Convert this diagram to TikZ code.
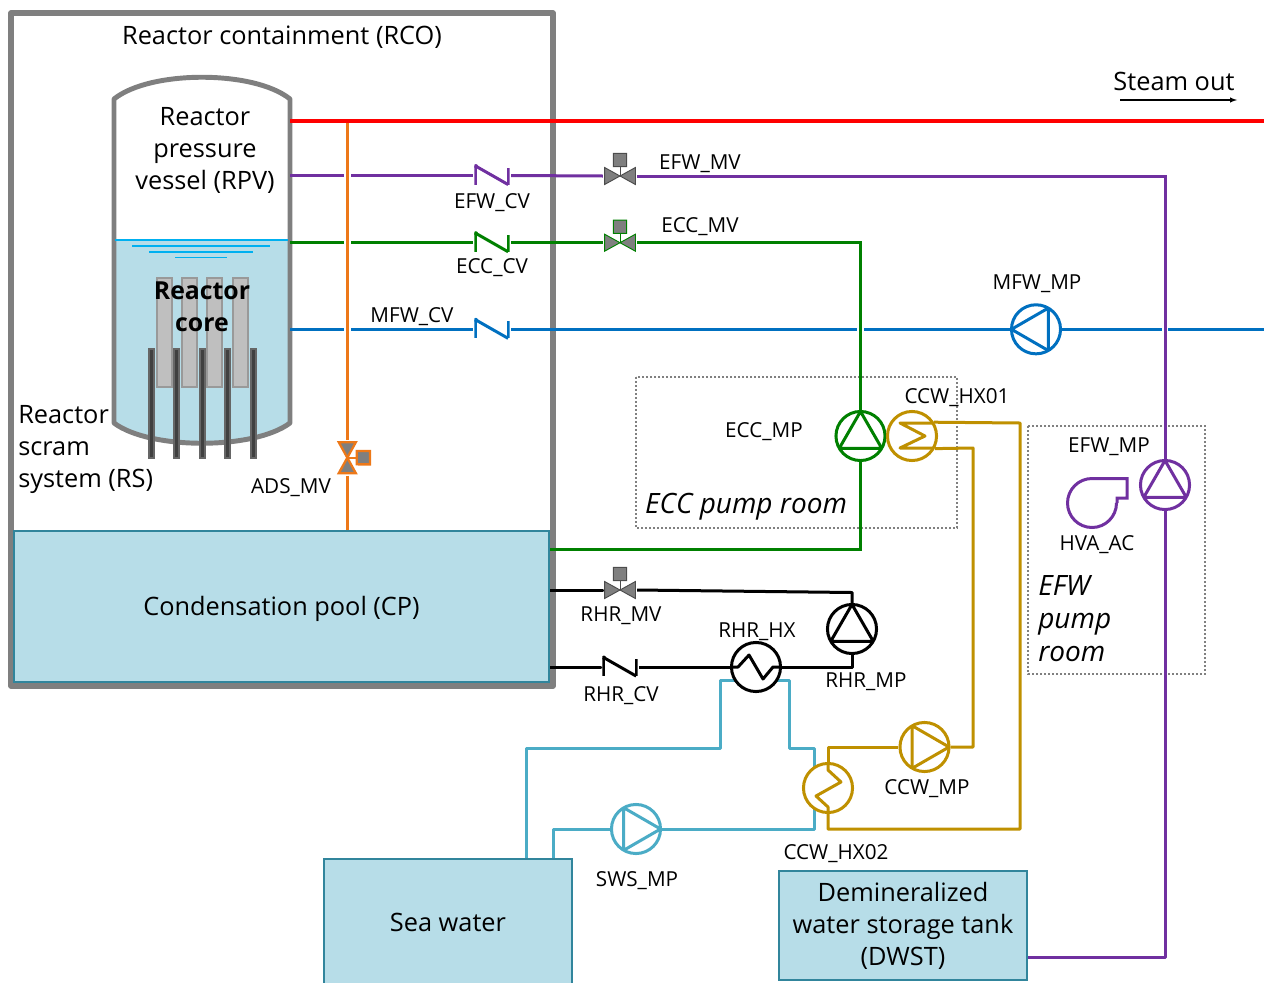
\documentclass[tikz,border=0pt]{standalone}
\usepackage{fontspec}
\setmainfont{Open Sans}
\usepackage{xcolor}
\usetikzlibrary{arrows,backgrounds}
\definecolor{wallgray}{HTML}{7F7F7F}
\definecolor{tankblue}{HTML}{B7DDE8}
\definecolor{tankedge}{HTML}{31859C}
\definecolor{surfblue}{HTML}{00B0F0}
\definecolor{efwcol}{HTML}{7030A0}
\definecolor{ecccol}{HTML}{008000}
\definecolor{mfwcol}{HTML}{0070C0}
\definecolor{adscol}{HTML}{ED7818}
\definecolor{ccwcol}{HTML}{BF9000}
\definecolor{swscol}{HTML}{4BACC6}

\begin{document}
\begin{tikzpicture}[
    x=0.75pt, y=-0.75pt,
    tag/.style={font=\fontsize{15.5pt}{18pt}\selectfont, inner sep=0pt},
    big/.style={font=\fontsize{19pt}{24pt}\selectfont, inner sep=0pt, align=center},
    room/.style={big, font=\fontsize{21pt}{24.75pt}\selectfont\itshape},
    tank/.style={draw=tankedge, fill=tankblue, line width=0.8pt, inner sep=0pt, big},
    pipe/.style={line width=2.25pt},
    hop/.style={white, line width=5pt},
    roombox/.style={draw=gray, line width=0.9pt, dash pattern=on 1.6pt off 1.4pt},
    fuelrod/.style={draw=gray!80, fill=gray!50, line width=0.8pt},
    ctrlrod/.style={draw=black!60, fill=black!75, line width=0.8pt},
    pump/.style={circle, draw, fill=white, pipe, minimum size=36.8pt, inner sep=0pt,
        path picture={\draw[pipe, line join=round, shift={(path picture bounding box.center)}]
            (90+#1:18.4pt) -- (210+#1:18.4pt) -- (330+#1:18.4pt) -- cycle;}},
    hx/.style={circle, draw, fill=white, pipe, minimum size=36.8pt, inner sep=0pt,
        path picture={\draw[pipe, line join=round, shift={(path picture bounding box.center)}] #1;}},
    bowtie/.style={inner sep=0pt,
        path picture={\begin{scope}[shift={(path picture bounding box.center)}]
            \draw (0pt,0pt) -- (90+#1:7pt);
            \draw[fill=wallgray] (28.9+#1:13.25pt) -- (0pt,0pt) -- (-28.9+#1:13.25pt) -- cycle;
            \draw[fill=wallgray] (151.1+#1:13.25pt) -- (0pt,0pt) -- (208.9+#1:13.25pt) -- cycle;
            \draw[fill=wallgray] (54.5+#1:8.6pt) -- (73.6+#1:17.7pt) -- (106.4+#1:17.7pt) -- (125.5+#1:8.6pt) -- cycle;
        \end{scope}}},
    valve/.style={bowtie=0, minimum width=25pt, minimum height=40pt, line width=0.7pt},
    sidevalve/.style={bowtie=-90, minimum width=40pt, minimum height=25pt, line width=1.7pt},
    checkvalve/.style={inner sep=0pt, minimum width=26.5pt, minimum height=18pt, pipe,
        path picture={\begin{scope}[shift={(path picture bounding box.center)}]
            \draw[pipe] (-12.1pt,7pt) -- (-12.1pt,-6.8pt);
            \draw[pipe] (12.1pt,6pt) -- (12.1pt,-6.8pt);
            \draw[pipe] (-12.1pt,7pt) -- (12.1pt,-6.8pt);
            \fill (-12.1pt,7pt) circle (1.6pt);
        \end{scope}}}
]

\useasboundingbox (0,0) rectangle (1264,982);

\node[big] (rcotag) at (282,37) {Reactor containment (RCO)};
\node[big] (rpvtag) at (205,150) {Reactor\\pressure\\vessel (RPV)};
\node[big, font=\fontsize{18.6pt}{24pt}\selectfont\bfseries] (coretag) at (202,306.5) {Reactor\\core};
\node[big, align=left, anchor=west] (rstag) at (18,449) {Reactor\\scram\\system (RS)};
\node[big] (steamtag) at (1174,81) {Steam out};

\node[tank, minimum width=401.25pt, minimum height=113.25pt, text depth=1pt] (pool) at (281.5,606.5) {Condensation pool (CP)};
\node[tank, minimum width=186pt, minimum height=95.25pt] (sea) at (448,922.5) {Sea water};
\node[tank, minimum width=186pt, minimum height=81.75pt] (dwst) at (903,925.5) {Demineralized\\water storage tank\\(DWST)};

\node[checkvalve, efwcol] (efwcv) at (492,175.5) {};
\node[checkvalve, ecccol] (ecccv) at (492,242.7) {};
\node[checkvalve, mfwcol] (mfwcv) at (492,329.3) {};
\node[checkvalve, black] (rhrcv) at (620,667) {};
\node[black!70, valve] (efwmv) at (620,176) {};
\node[ecccol, valve] (eccmv) at (620,242.7) {};
\node[black!70, valve] (rhrmv) at (620,590) {};
\node[adscol, sidevalve] (adsmv) at (347.3,457.7) {};

\node[mfwcol, pump=90] (mfwpump) at (1036,329.3) {};
\node[ecccol, pump=0] (eccpump) at (860.5,436) {};
\node[efwcol, pump=0] (efwpump) at (1165,485) {};
\node[black, pump=0] (rhrpump) at (852,629) {};
\node[ccwcol, pump=-90] (ccwpump) at (924.5,747) {};
\node[swscol, pump=-90] (swspump) at (636,829) {};

\node[ccwcol, hx={(25,-13) -- (-12,-13) -- (13,0) -- (-12,12) -- (25,12)}] (ccwhxa) at (912,436) {};
\node[ccwcol, hx={(0,-25) -- (0,-18) -- (13,-6) -- (-12,8) -- (0,19) -- (0,25)}] (ccwhxb) at (828,788) {};
\node[black, hx={(-25,0) -- (-18,0) -- (-7,-12) -- (7,12) -- (17,0) -- (25,0)}] (rhrhx) at (756,667) {};

\node[tag] (efwcvtag) at (492,203) {EFW\_CV};
\node[tag] (efwmvtag) at (700,164) {EFW\_MV};
\node[tag] (ecccvtag) at (492,268) {ECC\_CV};
\node[tag] (eccmvtag) at (700,227) {ECC\_MV};
\node[tag] (mfwcvtag) at (412,317) {MFW\_CV};
\node[tag] (mfwmptag) at (1037,284) {MFW\_MP};
\node[tag] (adsmvtag) at (291,488) {ADS\_MV};
\node[tag] (eccmptag) at (764,431.5) {ECC\_MP};
\node[tag] (ccwhxatag) at (957,398) {CCW\_HX01};
\node[tag] (efwmptag) at (1109,447) {EFW\_MP};
\node[tag] (hvactag) at (1097,545) {HVA\_AC};
\node[tag] (rhrmvtag) at (621,616) {RHR\_MV};
\node[tag] (rhrhxtag) at (757,632) {RHR\_HX};
\node[tag] (rhrmptag) at (866,682) {RHR\_MP};
\node[tag] (rhrcvtag) at (621,696) {RHR\_CV};
\node[tag] (ccwmptag) at (927,789) {CCW\_MP};
\node[tag] (swsmptag) at (637,881) {SWS\_MP};
\node[tag] (ccwhxbtag) at (836,854) {CCW\_HX02};
\node[room] (eccroom) at (746,507) {ECC pump room};
\node[room, align=left, anchor=west] (efwroom) at (1038,618.5) {EFW\\pump\\room};

\coordinate (steamtail) at (1120,100);
\coordinate (steamhead) at (1237,100);
\coordinate (steamout) at (290,120.7);
\coordinate (steamend) at (1264,120.7);
\coordinate (efwend) at (290,175.5);
\coordinate (eccend) at (290,242.7);
\coordinate (mfwend) at (290,329.3);
\coordinate (mfwin) at (1264,329.3);
\coordinate (adstop) at (347.3,121);
\coordinate (eccin) at (549,549);
\coordinate (efwin) at (1027,957);

\begin{scope}[on background layer]
    \draw[wallgray, line width=4.2pt, line join=round] (11,13) rectangle (553,686);
    \fill[tankblue] (114,240) -- (290,240) -- (290,423) .. controls (254,450) and (150,450) .. (114,423) -- cycle;
    \foreach \x in {157,182,207,233}
        \draw[fuelrod] (\x,278) rectangle ++(15,109);
    \draw[wallgray, line width=3.7pt, line join=round] (114,423) -- (114,99) .. controls (150,70) and (254,70) .. (290,99) -- (290,423) .. controls (254,450) and (150,450) .. (114,423) -- cycle;
    \foreach \x in {149,174,200,225,251}
        \draw[ctrlrod] (\x,349) rectangle ++(5,109);
    \draw[surfblue, line width=1.125pt] (115,240) -- (288,240);
    \draw[surfblue, line width=1.125pt] (132,246) -- (270,246);
    \draw[surfblue, line width=1.125pt] (149,252) -- (253,252);
    \draw[surfblue, line width=1.125pt] (175,257.5) -- (227,257.5);

    \draw[roombox] (636,377) rectangle (957,528);
    \draw[roombox] (1028,426) rectangle (1205,674);

    \draw[pipe, efwcol] (efwend) -- (efwcv.west);
    \draw[pipe, efwcol] (efwcv.east) -- (efwmv.west);
    \draw[pipe, efwcol, line join=round] (efwpump.south) |- (efwin);

    \draw[pipe, ecccol] (eccend) -- (ecccv.west);
    \draw[pipe, ecccol] (ecccv.east) -- (eccmv.west);
    \draw[pipe, ecccol] (eccin) -| (eccpump.south);

    \draw[pipe, mfwcol] (mfwend) -- (mfwcv.west);
    \draw[pipe, mfwcol] (mfwcv.east) -- (mfwpump.west);
    \draw[pipe, mfwcol] (mfwpump.east) -- (mfwin);

    \draw[hop] (347.3,160) -- (347.3,340);
    \draw[hop] (860.5,320) -- (860.5,340);
    \draw[hop] (1165,320) -- (1165,340);

    \draw[pipe, ecccol] (eccmv.east) -| (eccpump.north);
    \draw[pipe, efwcol] (efwmv.east) -| (efwpump.north);
    \draw[pipe, adscol] (adstop) -- (adsmv.north);
    \draw[pipe, adscol] (adsmv.south) -- (pool.north -| adsmv);
    \draw[line width=2.7pt, red] (steamout) -- (steamend);
    \draw[-latex, line width=0.8pt] (steamtail) -- (steamhead);

    \draw[pipe, ccwcol, line join=round] (ccwhxa.32) -- (1020,423) -- (1020,829) -- (828,829) -- (ccwhxb.south);
    \draw[pipe, ccwcol, line join=round] (ccwhxa.-29) -- (973,448) -- (973,747) -- (ccwpump.east);
    \draw[pipe, ccwcol, line join=round] (ccwpump.west) -| (ccwhxb.north);

    \draw[pipe, swscol, line join=round] (526,859) -- (526,748) -- (720,748) -- (720,680.5) -- (789,680.5) -- (789,748) -- (814.5,748) -- (814.5,829) -- (swspump.east);
    \draw[pipe, swscol, line join=round] (swspump.west) -- (553,829) -- (553,859);

    \draw[pipe, line cap=round] (pool.east |- rhrmv.west) -- (rhrmv.west);
    \draw[pipe, line join=round] (rhrmv.east) -- (852,592.5) -- (rhrpump.north);
    \draw[pipe, line join=round] (rhrpump.south) |- (rhrhx.east);
    \draw[pipe] (rhrhx.west) -- (rhrcv.east);
    \draw[pipe, line cap=round] (rhrcv.west) -- (pool.east |- rhrcv.west);
\end{scope}

\draw[pipe, efwcol, line join=miter] (1117,503) -- (1117,498) -- (1127,498) -- (1127,478.5) -- (1092,478.5) arc[start angle=90, end angle=360, x radius=24.5, y radius=-24.5];

\end{tikzpicture}
\end{document}
